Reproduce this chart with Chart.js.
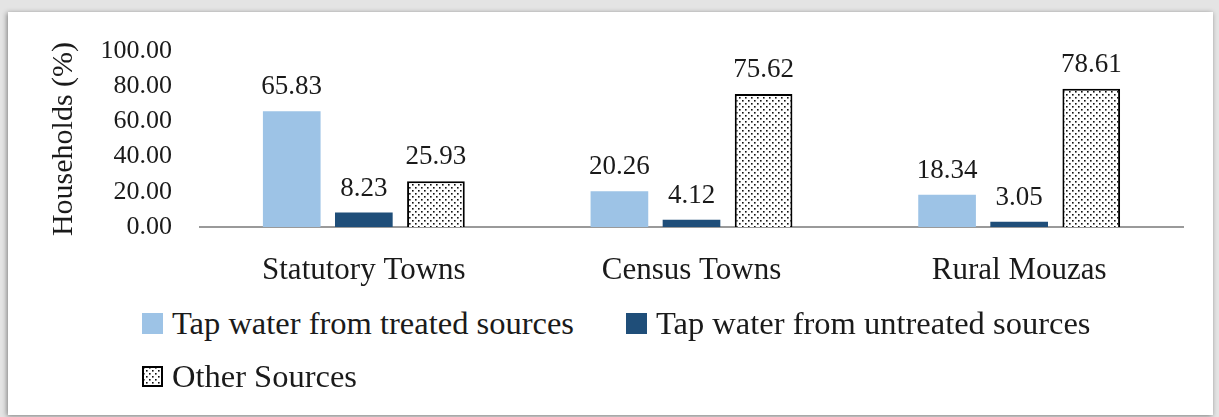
<!DOCTYPE html>
<html>
<head>
<meta charset="utf-8">
<script src="https://cdn.jsdelivr.net/npm/chart.js@4/dist/chart.umd.min.js"></script>
<style>
  html, body { margin: 0; padding: 0; }
  body { width: 1219px; height: 417px; background: #e4e4e4; position: relative; overflow: hidden; }
  .frame {
    position: absolute; left: 8px; top: 12px; width: 1205px; height: 403px;
    background: #fff; box-shadow: -1px 1px 5px rgba(0,0,0,0.45);
  }
  #chartBox { position: absolute; left: 0; top: 0; width: 1219px; height: 300px; }
  #legend {
    position: absolute; left: 142px; top: 305px; width: 1000px;
    display: flex; flex-wrap: wrap; column-gap: 52px; row-gap: 17px;
    font-family: "Liberation Serif", serif; font-size: 32.5px; color: #1a1a1a;
  }
  .item { display: flex; align-items: center; line-height: 36px; white-space: nowrap; }
  .item canvas { margin-right: 9px; }
</style>
</head>
<body>
<div class="frame"></div>
<div id="chartBox"><canvas id="bars"></canvas></div>
<div id="legend"></div>
<script>
// households by source of drinking water (%)
var categories = ['Statutory Towns', 'Census Towns', 'Rural Mouzas'];
var seriesNames = ['Tap water from treated sources', 'Tap water from untreated sources', 'Other Sources'];
var treated = [65.83, 20.26, 18.34];
var untreated = [8.23, 4.12, 3.05];
var other = [25.93, 75.62, 78.61];
var yTicks = [0, 20, 40, 60, 80, 100];

// dotted fill used for "Other Sources"
function dots(ctx) {
    var c = document.createElement('canvas');
    c.width = 6; c.height = 6;
    var g = c.getContext('2d');
    g.fillStyle = '#fff';
    g.fillRect(0, 0, 6, 6);
    g.fillStyle = '#111';
    g.fillRect(1, 1, 1.6, 1.6);
    g.fillRect(4, 4, 1.6, 1.6);
    return ctx.createPattern(c, 'repeat');
}

var canvas = document.getElementById('bars');
var ctx = canvas.getContext('2d');

// value labels above each bar
var valueLabels = {
    id: 'valueLabels',
    afterDatasetsDraw: function(chart) {
        var c = chart.ctx;
        c.save();
        c.font = '27px "Liberation Serif"';
        c.fillStyle = '#1a1a1a';
        c.textAlign = 'center';
        c.textBaseline = 'alphabetic';
        chart.data.datasets.forEach(function(ds, i) {
            chart.getDatasetMeta(i).data.forEach(function(bar, j) {
                c.fillText(ds.data[j].toFixed(2), bar.x, bar.y - 17);
            });
        });
        c.restore();
    }
};

var chart = new Chart(ctx, {
    type: 'bar',
    data: {
        labels: categories,
        datasets: [
            { label: seriesNames[0], data: treated, backgroundColor: '#9dc3e6' },
            { label: seriesNames[1], data: untreated, backgroundColor: '#1f4e79' },
            { label: seriesNames[2], data: other, backgroundColor: dots(ctx), borderColor: '#000', borderWidth: 2 }
        ]
    },
    options: {
        responsive: true,
        maintainAspectRatio: false,
        animation: false,
        categoryPercentage: 0.66,
        barPercentage: 0.8,
        layout: { padding: { left: 37, right: 36, top: 51, bottom: 0 } },
        plugins: { legend: { display: false }, tooltip: { enabled: false } },
        scales: {
            x: {
                grid: { display: false, drawTicks: false },
                border: { display: true, color: '#9a9a9a', width: 2 },
                ticks: { color: '#1a1a1a', padding: 25, font: { family: 'Liberation Serif', size: 31 } },
                afterFit: function(scale) { scale.height = 73; }
            },
            y: {
                min: 0, max: 100,
                grid: { display: false, drawTicks: false },
                border: { display: false },
                afterBuildTicks: function(scale) {
                    scale.ticks = yTicks.map(function(v) { return { value: v }; });
                },
                ticks: {
                    color: '#1a1a1a', padding: 28,
                    font: { family: 'Liberation Serif', size: 26 },
                    callback: function(v) { return v.toFixed(2); }
                },
                title: {
                    display: true, text: 'Households (%)', color: '#1a1a1a',
                    padding: { top: 9, bottom: 0 },
                    font: { family: 'Liberation Serif', size: 30 }
                },
                afterFit: function(scale) { scale.width = 163; }
            }
        }
    },
    plugins: [valueLabels]
});

// legend rows under the chart
var legend = document.getElementById('legend');
chart.data.datasets.forEach(function(ds) {
    var item = document.createElement('div');
    item.className = 'item';
    var sw = document.createElement('canvas');
    sw.width = 21; sw.height = 21;
    var s = sw.getContext('2d');
    if (ds.borderWidth) {
        s.fillStyle = dots(s);
        s.fillRect(0, 0, 21, 21);
        s.lineWidth = 2;
        s.strokeStyle = ds.borderColor;
        s.strokeRect(1, 1, 19, 19);
    } else {
        s.fillStyle = ds.backgroundColor;
        s.fillRect(0, 0, 21, 21);
    }
    item.appendChild(sw);
    var t = document.createElement('span');
    t.textContent = ds.label;
    item.appendChild(t);
    legend.appendChild(item);
});
</script>
</body>
</html>
